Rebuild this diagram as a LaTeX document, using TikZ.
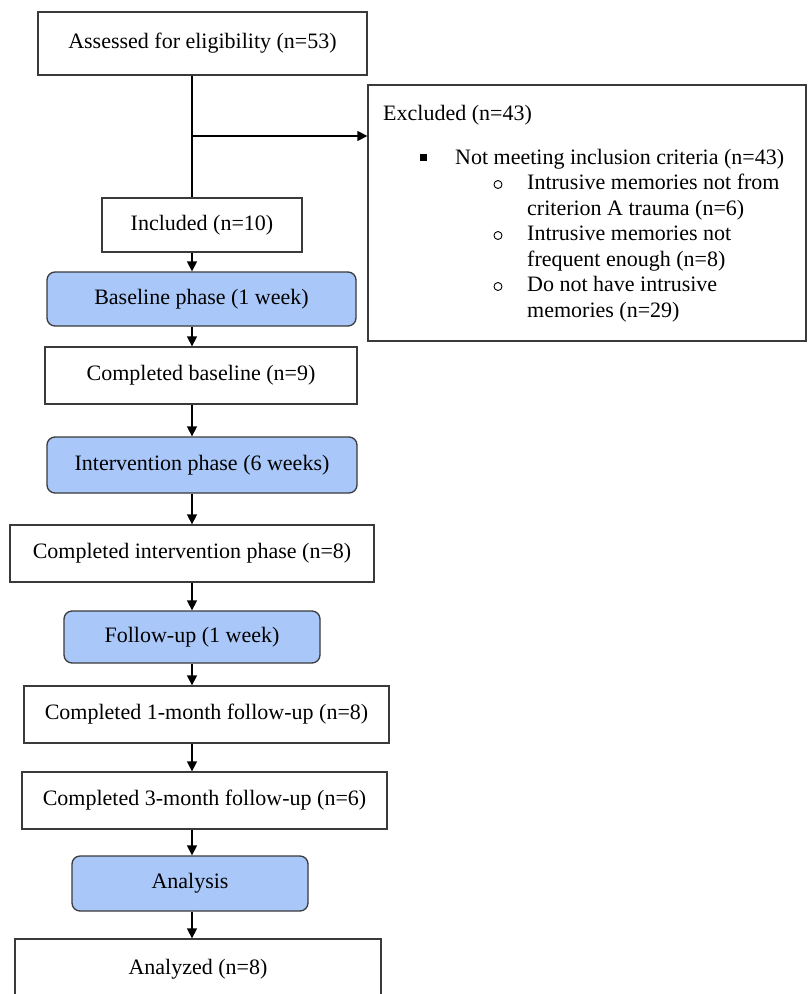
\documentclass[tikz,border=0pt]{standalone}
\usepackage{fontspec}
\setmainfont{Liberation Serif}
\newfontfamily\cnmono{Liberation Mono}
\usetikzlibrary{arrows.meta}
\definecolor{edge}{HTML}{3A3A3A}
\definecolor{phase}{HTML}{A9C7F8}
\begin{document}
\begin{tikzpicture}[x=1pt,y=-1pt,
  every node/.style={font=\fontsize{22}{25.8}\selectfont},
  box/.style={draw=edge, line width=1.3pt, fill=white, inner sep=0pt, align=center},
  phasebox/.style={box, fill=phase, rounded corners=8pt},
  arr/.style={line width=1.3pt, draw=black, -{Triangle[length=10pt,width=10pt]}},
  ln/.style={line width=1.3pt, draw=black},
  txt/.style={anchor=base west, inner sep=0pt}]
\clip (0,0) rectangle (807,994);
\fill[white] (0,0) rectangle (807,994);
\coordinate (sp) at (192,0);
\coordinate (j) at (192,136);

\node[box, minimum width=329pt, minimum height=63pt] (assess) at (202.5,43.5) {Assessed for eligibility (n=53)};
\node[box, minimum width=438pt, minimum height=256pt] (exc) at (587,213) {};
\node[box, minimum width=200pt, minimum height=54pt] (inc) at (202,225) {Included (n=10)};
\node[phasebox, minimum width=309pt, minimum height=54pt] (base) at (201.5,299) {Baseline phase (1 week)};
\node[box, minimum width=312pt, minimum height=57pt] (cbase) at (201,375.5) {Completed baseline (n=9)};
\node[phasebox, minimum width=310pt, minimum height=56pt] (interv) at (202,465) {Intervention phase (6 weeks)};
\node[box, minimum width=364pt, minimum height=57pt] (cinterv) at (192,553.5) {Completed intervention phase (n=8)};
\node[phasebox, minimum width=256pt, minimum height=52pt] (fup) at (192,637) {Follow-up (1 week)};
\node[box, minimum width=365pt, minimum height=57pt] (c1m) at (206.5,714.5) {Completed 1-month follow-up (n=8)};
\node[box, minimum width=365pt, minimum height=57pt] (c3m) at (204.5,800.5) {Completed 3-month follow-up (n=6)};
\node[phasebox, minimum width=236pt, minimum height=55pt] (anal) at (190,883.5) {Analysis};
\node[box, minimum width=366pt, minimum height=60pt] (analyzed) at (198,969) {Analyzed (n=8)};

% excluded box contents
\node[txt] (ex0) at (383,120) {Excluded (n=43)};
\node[fill=black, inner sep=0pt, minimum size=7pt] (b0) at (423,157.5) {};
\node[txt] (ex1) at (455,164) {Not meeting inclusion criteria (n=43)};
\node[draw=black, line width=0.9pt, circle, inner sep=0pt, minimum size=8pt] (o1) at (498,184.5) {};
\node[txt] (ex2) at (527,189.5) {Intrusive memories not from};
\node[txt] (ex3) at (527,215) {criterion A trauma (n=6)};
\node[draw=black, line width=0.9pt, circle, inner sep=0pt, minimum size=8pt] (o2) at (498,235.5) {};
\node[txt] (ex4) at (527,240.5) {Intrusive memories not};
\node[txt] (ex5) at (527,266) {frequent enough (n=8)};
\node[draw=black, line width=0.9pt, circle, inner sep=0pt, minimum size=8pt] (o3) at (498,286.5) {};
\node[txt] (ex6) at (527,291.5) {Do not have intrusive};
\node[txt] (ex7) at (527,317) {memories (n=29)};

% connectors
\draw[ln] (assess.south -| sp) -- (inc.north -| sp);
\draw[arr] (j) -- (j -| exc.west);
\draw[arr] (inc.south -| sp) -- (base.north -| sp);
\draw[arr] (base.south -| sp) -- (cbase.north -| sp);
\draw[arr] (cbase.south -| sp) -- (interv.north -| sp);
\draw[arr] (interv.south -| sp) -- (cinterv.north -| sp);
\draw[arr] (cinterv.south -| sp) -- (fup.north -| sp);
\draw[arr] (fup.south -| sp) -- (c1m.north -| sp);
\draw[arr] (c1m.south -| sp) -- (c3m.north -| sp);
\draw[arr] (c3m.south -| sp) -- (anal.north -| sp);
\draw[arr] (anal.south -| sp) -- (analyzed.north -| sp);
\end{tikzpicture}
\end{document}
